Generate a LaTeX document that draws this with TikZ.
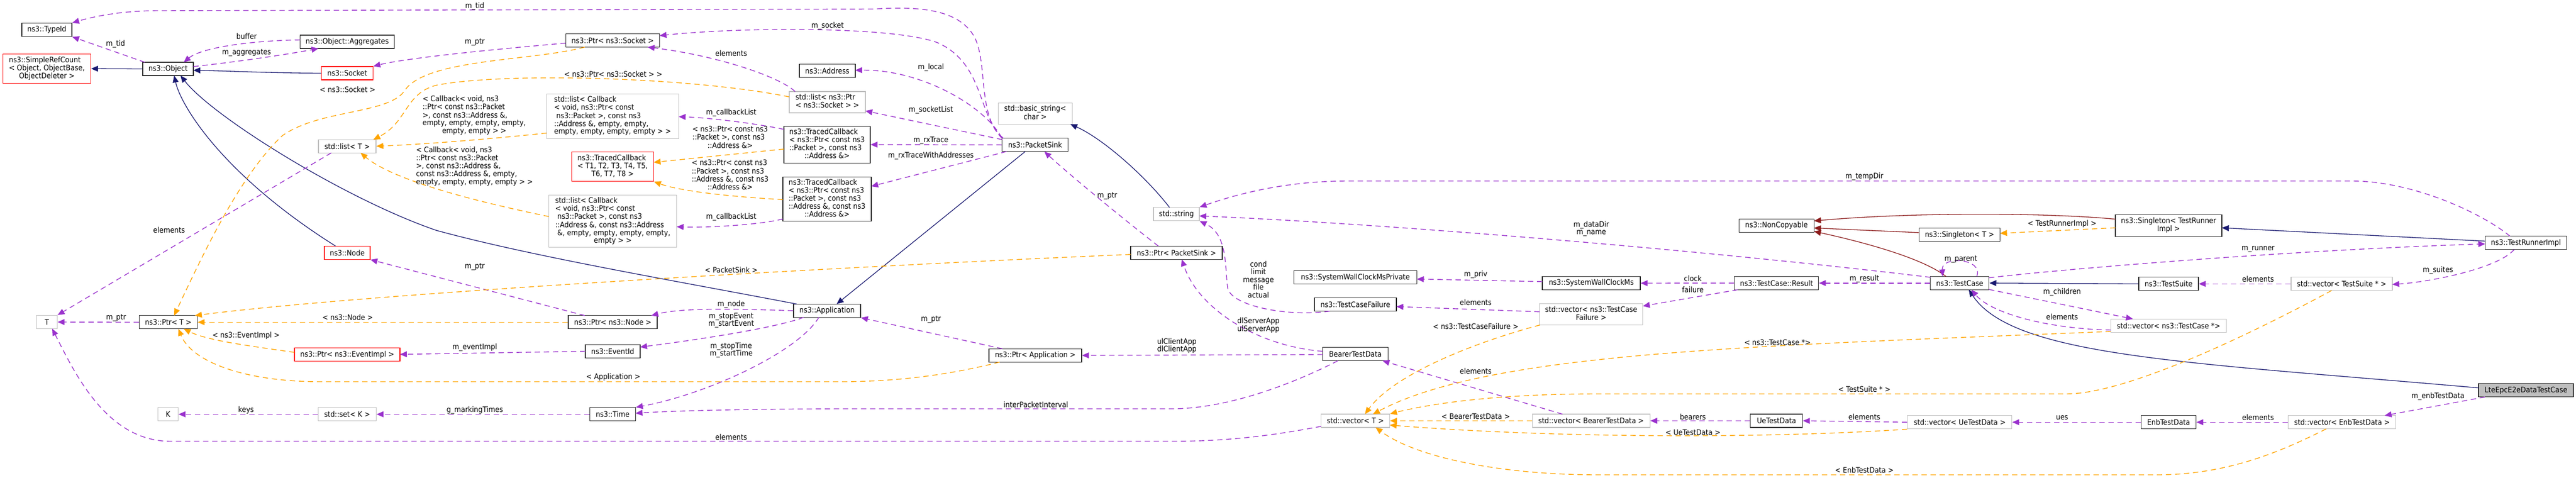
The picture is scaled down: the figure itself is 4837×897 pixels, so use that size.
\documentclass[tikz,border=0pt]{standalone}
\usepackage{fontspec}
\setmainfont{DejaVu Sans}[FakeStretch=0.9]
\usetikzlibrary{arrows.meta,calc}
\definecolor{purp}{HTML}{9A32CD}
\definecolor{orng}{HTML}{FFA500}
\definecolor{navyb}{HTML}{191970}
\definecolor{dred}{HTML}{8B1A1A}
\definecolor{gry}{HTML}{BFBFBF}
\newcommand{\nf}{\fontsize{14.3}{14.6}\selectfont}
\newcommand{\mlines}[2]{\begin{tabular}{@{}l@{}}#1\\\multicolumn{1}{@{}c@{}}{#2}\end{tabular}}
\renewcommand{\arraystretch}{1}
\tikzset{
  box/.style={draw=black!85, line width=1.3pt, inner sep=0pt, font=\nf, minimum height=25pt},
  rbox/.style={box, draw=red},
  gbox/.style={box, draw=gry},
  inh/.style={draw=navyb, line width=1.3pt, -{Triangle[length=13pt,width=11pt]}},
  prv/.style={inh, draw=dred},
  mem/.style={draw=purp, line width=1.4pt, dash pattern=on 10pt off 7pt, -{Triangle[length=13pt,width=11pt]}},
  tpl/.style={mem, draw=orng},
  lab/.style={font=\nf, inner sep=0pt, align=center},
}
\begin{document}
\begin{tikzpicture}[x=1pt,y=-1pt]
\fill[white] (0,0) rectangle (4837,897);
\useasboundingbox (0,0) rectangle (4837,897);

% ---------- nodes ----------
\node[box,minimum width=94pt] (typeid) at (88,56) {ns3::TypeId};
\node[rbox,minimum width=165pt,minimum height=55pt] (srefc) at (88,129) {\mlines{ns3::SimpleRefCount\\< Object, ObjectBase,}{ObjectDeleter >}};
\node[box,minimum width=95pt] (object) at (315.6,129.5) {ns3::Object};
\node[box,minimum width=177pt] (aggr) at (652,78.5) {ns3::Object::Aggregates};
\node[rbox,minimum width=97pt] (socket) at (652,137.5) {ns3::Socket};
\node[gbox,minimum width=108pt] (listT) at (652,274.7) {std::list< T >};
\node[rbox,minimum width=86pt] (nodeN) at (652,474.7) {ns3::Node};
\node[gbox,minimum width=39pt] (T) at (88,605) {T};
\node[box,minimum width=109pt] (ptrT) at (316,605.3) {ns3::Ptr< T >};
\node[rbox,minimum width=198pt] (ptrEv) at (652,666.3) {ns3::Ptr< ns3::EventImpl >};
\node[gbox,minimum width=38pt] (K) at (315.6,778.3) {K};
\node[gbox,minimum width=109pt] (setK) at (652,778.3) {std::set< K >};
\node[box,minimum width=176pt] (ptrSock) at (1150.4,76) {ns3::Ptr< ns3::Socket >};
\node[box,minimum width=105pt] (address) at (1553.4,133.3) {ns3::Address};
\node[gbox,minimum width=143pt,minimum height=40pt] (listPS) at (1553.5,192) {\mlines{std::list< ns3::Ptr}{< ns3::Socket > >}};
\node[gbox,minimum width=248pt,minimum height=84pt] (listCb1) at (1150.4,218.5) {\mlines{std::list< Callback\\< void, ns3::Ptr< const\\\hspace*{4pt}ns3::Packet >, const ns3\\::Address \&, empty, empty,}{empty, empty, empty, empty > >}};
\node[rbox,minimum width=154pt,minimum height=55pt] (tcT) at (1150.4,313.2) {\mlines{ns3::TracedCallback\\< T1, T2, T3, T4, T5,}{T6, T7, T8 >}};
\node[gbox,minimum width=240pt,minimum height=98pt] (listCb2) at (1150.6,415.8) {\mlines{std::list< Callback\\< void, ns3::Ptr< const\\\hspace*{4pt}ns3::Packet >, const ns3\\::Address \&, const ns3::Address\\\hspace*{4pt}\&, empty, empty, empty, empty,}{empty > >}};
\node[box,minimum width=162pt,minimum height=69pt] (tc1) at (1553,271.7) {\mlines{ns3::TracedCallback\\< ns3::Ptr< const ns3\\::Packet >, const ns3}{::Address \&>}};
\node[box,minimum width=166pt,minimum height=83pt] (tc2) at (1553,374.3) {\mlines{ns3::TracedCallback\\< ns3::Ptr< const ns3\\::Packet >, const ns3\\::Address \&, const ns3}{::Address \&>}};
\node[box,minimum width=126pt] (app) at (1553,583.7) {ns3::Application};
\node[box,minimum width=167pt] (ptrNode) at (1150.6,605.3) {ns3::Ptr< ns3::Node >};
\node[box,minimum width=103pt] (eventid) at (1150.5,659.7) {ns3::EventId};
\node[box,minimum width=86pt] (time) at (1150.4,778.3) {ns3::Time};
\node[gbox,minimum width=139pt,minimum height=40pt] (bstr) at (1943.8,213.3) {\mlines{std::basic\_string<}{char >}};
\node[box,minimum width=124pt] (psink) at (1943.6,272.2) {ns3::PacketSink};
\node[gbox,minimum width=86pt] (str) at (2209,402.2) {std::string};
\node[box,minimum width=172pt] (ptrPS) at (2209,474.7) {ns3::Ptr< PacketSink >};
\node[box,minimum width=174pt] (ptrApp) at (1944,667.7) {ns3::Ptr< Application >};
\node[box,minimum width=231pt] (swcPriv) at (2545,521.3) {ns3::SystemWallClockMsPrivate};
\node[box,minimum width=184pt] (swc) at (2988,532) {ns3::SystemWallClockMs};
\node[box,minimum width=154pt] (tcf) at (2545,572) {ns3::TestCaseFailure};
\node[gbox,minimum width=194pt,minimum height=40pt] (vecTCF) at (2987.8,590.5) {\mlines{std::vector< ns3::TestCase}{Failure >}};
\node[box,minimum width=123pt] (btd) at (2545,665.3) {BearerTestData};
\node[gbox,minimum width=129pt] (vecT) at (2545,790.5) {std::vector< T >};
\node[gbox,minimum width=221pt] (vecBTD) at (2987.7,790.5) {std::vector< BearerTestData >};
\node[box,minimum width=141pt] (noncopy) at (3335.7,423.7) {ns3::NonCopyable};
\node[box,minimum width=152pt] (singT) at (3679.5,441.2) {ns3::Singleton< T >};
\node[box,minimum width=200pt,minimum height=41pt] (singTRI) at (4072,423.7) {\mlines{ns3::Singleton< TestRunner}{Impl >}};
\node[box,minimum width=158pt] (result) at (3335.8,531.8) {ns3::TestCase::Result};
\node[box,minimum width=110pt] (testcase) at (3679.8,531.8) {ns3::TestCase};
\node[gbox,minimum width=217pt] (vecTC) at (4072,611.7) {std::vector< ns3::TestCase *>};
\node[box,minimum width=98pt] (uetd) at (3335.7,790.5) {UeTestData};
\node[gbox,minimum width=196pt] (vecUe) at (3679.8,793.2) {std::vector< UeTestData >};
\node[box,minimum width=153pt] (tri) at (4743,456.2) {ns3::TestRunnerImpl};
\node[box,minimum width=112pt] (suite) at (4072,533.3) {ns3::TestSuite};
\node[gbox,minimum width=190pt] (vecTS) at (4397,533.3) {std::vector< TestSuite * >};
\node[box,fill=gry,minimum width=178pt] (lte) at (4743,733.3) {LteEpcE2eDataTestCase};
\node[box,minimum width=103pt] (enbtd) at (4072,793.2) {EnbTestData};
\node[gbox,minimum width=202pt] (vecEnb) at (4397.6,793.2) {std::vector< EnbTestData >};

% ---------- inheritance ----------
\draw[inh] (object.west) -- (srefc.east);
\draw[inh] (socket.west) .. controls (500,137) and (420,133) .. ($(object)+(47.5,2.5)$);
\draw[inh] ($(nodeN)+(-22,-12.5)$) .. controls (420,330) and (340,200) .. ($(object)+(11.4,12.5)$);
\draw[inh] ($(app)+(-57,-12.5)$) .. controls (1260,526) and (1000,482) .. (820,433) .. controls (650,375) and (400,220) .. ($(object)+(23.4,12.5)$);
\draw[inh] ($(psink)+(-18.6,12.5)$) -- ($(app)+(18,-12.5)$);
\draw[inh] ($(str)+(-13,-12.5)$) .. controls (2150,330) and (2070,260) .. ($(bstr)+(66,20)$);
\draw[prv] ($(singTRI)+(-100,-12)$) .. controls (3850,400) and (3600,398) .. ($(noncopy)+(70.5,-8.7)$);
\draw[prv] ($(singT)+(-76,-4.2)$) -- ($(noncopy)+(70.5,4.6)$);
\draw[prv] ($(testcase)+(-25.8,-12.5)$) .. controls (3610,485) and (3500,455) .. ($(noncopy)+(70.5,11)$);
\draw[inh] ($(tri)+(-76.5,-3.2)$) -- ($(singTRI)+(100,4.3)$);
\draw[inh] ($(lte)+(-89,-4.6)$) .. controls (4100,680) and (3780,670) .. ($(testcase)+(17,12.5)$);
\draw[inh] (suite.west) -- (testcase.east);

% ---------- members ----------
\draw[mem] ($(object)+(-43.6,-12.5)$) -- (typeid.south east);
\draw[mem] ($(aggr)+(-88.5,-3.5)$) .. controls (480,76) and (380,88) .. ($(object)+(29.4,-12.5)$);
\draw[mem] ($(object)+(47.5,-4.5)$) .. controls (430,118) and (530,104) .. ($(aggr)+(-54,12.5)$);
\draw[mem] ($(ptrSock)+(-88,5)$) .. controls (900,95) and (760,110) .. (socket.north east);
\draw[mem] ($(listT)+(-30,12.5)$) -- (T.north east);
\draw[mem] (ptrT.west) -- (T.east);
\draw[mem] (setK.west) -- (K.east);
\draw[mem] (time.west) -- (setK.east);
\draw[mem] ($(eventid)+(-51.5,0.3)$) -- ($(ptrEv)+(99,-0.6)$);
\draw[mem] ($(ptrNode)+(-52.6,-12.5)$) -- (nodeN.south east);
\draw[mem] ($(listPS)+(-60.5,-20)$) .. controls (1465,145) and (1350,105) .. ($(ptrSock)+(65.6,12.5)$);
\draw[mem] ($(psink)+(-59.6,-12.5)$) .. controls (1835,220) and (1850,120) .. (1760,80) .. controls (1680,50) and (1400,50) .. ($(ptrSock)+(88,-9)$);
\draw[mem] ($(psink)+(-62,-12.5)$) .. controls (1835,215) and (1855,120) .. (1830,70) .. controls (1800,15) and (1720,12) .. (1640,17) -- (300,20) .. controls (230,20) and (180,30) .. (typeid.north east);
\draw[mem] (psink.north west) .. controls (1850,200) and (1730,130) .. ($(address)+(52.5,-1.3)$);
\draw[mem] ($(psink)+(-62,-10)$) -- ($(listPS)+(71.5,16.3)$);
\draw[mem] (psink.west) -- (tc1.east);
\draw[mem] ($(psink)+(-53.6,12.5)$) -- ($(tc2)+(83,-24.3)$);
\draw[mem] ($(tc1)+(-81,-28.7)$) .. controls (1420,232) and (1330,221) .. ($(listCb1)+(124,0.8)$);
\draw[mem] ($(tc2)+(-83,37)$) .. controls (1430,422) and (1330,428) .. ($(listCb2)+(120,10.2)$);
\draw[mem] (app.west) .. controls (1380,580) and (1280,578) .. ($(ptrNode)+(72.4,-12.5)$);
\draw[mem] ($(app)+(-44,12.5)$) .. controls (1460,615) and (1320,637) .. ($(eventid)+(51.5,-7.7)$);
\draw[mem] ($(app)+(-15.5,12.5)$) .. controls (1500,660) and (1330,740) .. (time.north east);
\draw[mem] ($(ptrApp)+(-62,-12.5)$) -- (app.south east);
\draw[mem] ($(ptrPS)+(-34,-12.5)$) .. controls (2120,420) and (2010,330) .. ($(psink)+(17.4,12.5)$);
\draw[mem] ($(testcase)+(-54.8,-10.8)$) .. controls (3200,470) and (2600,420) .. ($(str)+(43,3.5)$);
\draw[mem] ($(tri)+(-30,-12.5)$) .. controls (4660,400) and (4530,340) .. (4416,340) -- (2531,340) .. controls (2420,340) and (2330,362) .. (str.north east);
\draw[mem] ($(tcf)+(-48,12.5)$) .. controls (2420,596) and (2310,575) .. (2305,540) .. controls (2300,500) and (2305,440) .. (str.south east);
\draw[mem] ($(btd)+(-61.5,-5.3)$) .. controls (2360,650) and (2250,580) .. ($(ptrPS)+(10,12.5)$);
\draw[mem] ($(btd)+(-61.5,0.7)$) -- (ptrApp.east);
\draw[mem] ($(btd)+(-33,12.5)$) .. controls (2420,725) and (2300,768) .. (2200,768) -- (1600,768) .. controls (1400,768) and (1260,772) .. ($(time)+(43,-2)$);
\draw[mem] ($(vecT)+(-64.5,10.5)$) .. controls (2380,820) and (2300,829) .. (2200,829) -- (320,829) .. controls (200,829) and (140,700) .. ($(T)+(10,12.5)$);
\draw[mem] ($(swc)+(-92,-3)$) -- ($(swcPriv)+(115.5,3)$);
\draw[mem] ($(vecTCF)+(-97,-4.8)$) -- ($(tcf)+(77,4)$);
\draw[mem] (result.west) -- (swc.east);
\draw[mem] ($(result)+(-72.8,12.5)$) -- ($(vecTCF)+(97,-15.5)$);
\draw[mem] (testcase.west) -- (result.east);
\draw[mem] ($(testcase)+(32,-12.5)$) .. controls (3725,485) and (3645,480) .. ($(testcase)+(-32,-12.5)$);
\draw[mem] ($(testcase)+(55,12)$) -- ($(vecTC)+(-67,-12.5)$);
\draw[mem] ($(vecTC)+(-108.5,8.3)$) .. controls (3850,618) and (3740,590) .. ($(testcase)+(22,12.5)$);
\draw[mem] ($(testcase)+(55,-10)$) .. controls (3880,505) and (4300,470) .. ($(tri)+(-76.5,2)$);
\draw[mem] ($(tri)+(-22,12.5)$) .. controls (4690,505) and (4560,530) .. ($(vecTS)+(95,1)$);
\draw[mem] (vecTS.west) -- (suite.east);
\draw[mem] ($(vecBTD)+(-54,-12.5)$) -- ($(btd)+(51,12.5)$);
\draw[mem] (uetd.west) -- (vecBTD.east);
\draw[mem] (vecUe.west) -- (uetd.east);
\draw[mem] (enbtd.west) -- (vecUe.east);
\draw[mem] (vecEnb.west) -- (enbtd.east);
\draw[mem] ($(lte)+(-77,12.5)$) -- ($(vecEnb)+(80,-12.5)$);

% ---------- template instances ----------
\draw[tpl] ($(singTRI)+(-100,4.3)$) -- ($(singT)+(76,-2.9)$);
\draw[tpl] ($(ptrSock)+(-52.4,12.5)$) .. controls (1000,115) and (800,110) .. (760,170) .. controls (730,215) and (600,205) .. (530,255) .. controls (450,330) and (380,480) .. ($(ptrT)+(11,-12.5)$);
\draw[tpl] ($(listPS)+(-71.5,-10)$) .. controls (1300,145) and (950,135) .. (820,160) .. controls (760,175) and (765,230) .. ($(listT)+(49,-12.5)$);
\draw[tpl] ($(listCb1)+(-124,31.5)$) .. controls (950,258) and (820,270) .. (listT.east);
\draw[tpl] ($(listCb2)+(-120,-9)$) .. controls (900,380) and (740,340) .. ($(listT)+(25,12.5)$);
\draw[tpl] ($(tc1)+(-81,8.3)$) -- ($(tcT)+(77,-8.2)$);
\draw[tpl] ($(tc2)+(-83,0.7)$) .. controls (1380,370) and (1280,360) .. (tcT.south east);
\draw[tpl] ($(ptrPS)+(-86,3.3)$) .. controls (1600,500) and (700,550) .. ($(ptrT)+(50,-12.5)$);
\draw[tpl] (ptrNode.west) -- (ptrT.east);
\draw[tpl] ($(ptrEv)+(-99,-4.3)$) .. controls (470,650) and (390,640) .. ($(ptrT)+(29,12.5)$);
\draw[tpl] ($(ptrApp)+(-67,12.5)$) .. controls (1800,700) and (1700,717) .. (1580,717) -- (600,717) .. controls (460,717) and (360,680) .. ($(ptrT)+(19,12.5)$);
\draw[tpl] ($(vecTCF)+(-96,20)$) .. controls (2780,640) and (2620,700) .. ($(vecT)+(18,-12.5)$);
\draw[tpl] ($(vecTC)+(-108.5,11)$) .. controls (3300,650) and (2800,660) .. ($(vecT)+(33,-12.5)$);
\draw[tpl] ($(vecTS)+(-19,12.5)$) .. controls (4250,615) and (4000,740) .. (3880,740) -- (3000,740) .. controls (2800,740) and (2680,760) .. (vecT.north east);
\draw[tpl] (vecBTD.west) -- (vecT.east);
\draw[tpl] (vecUe.south west) .. controls (3300,825) and (2900,822) .. ($(vecT)+(64.5,8)$);
\draw[tpl] ($(vecEnb)+(-29.6,12.5)$) .. controls (4280,850) and (4180,892) .. (4050,892) -- (3000,892) .. controls (2820,892) and (2660,860) .. ($(vecT)+(38,12.5)$);

% ---------- labels ----------
\node[lab] (l1) at (217,82.3) {m\_tid};
\node[lab] (l2) at (463,67.7) {buffer};
\node[lab] (l3) at (463,99) {m\_aggregates};
\node[lab] (l4) at (652.7,168.3) {< ns3::Socket >};
\node[lab] (l5) at (317.5,431.7) {elements};
\node[lab] (l6) at (218,596.7) {m\_ptr};
\node[lab] (l7) at (653,596) {< ns3::Node >};
\node[lab] (l8) at (462,630.3) {< ns3::EventImpl >};
\node[lab] (l9) at (462,770.3) {keys};
\node[lab] (l10) at (891.5,11.7) {m\_tid};
\node[lab] (l11) at (891.5,79) {m\_ptr};
\node[lab] (l12) at (1554,49) {m\_socket};
\node[lab] (l13) at (1373,100) {elements};
\node[lab] (l14) at (1151.5,139.3) {< ns3::Ptr< ns3::Socket > >};
\node[lab] (l15) at (1373,211.7) {m\_callbackList};
\node[lab] (l16) at (1371,259.7) {\mlines{< ns3::Ptr< const ns3\\::Packet >, const ns3}{::Address \&>}};
\node[lab] (l17) at (1371,330.7) {\mlines{< ns3::Ptr< const ns3\\::Packet >, const ns3\\::Address \&, const ns3}{::Address \&>}};
\node[lab] (l18) at (1373,407.3) {m\_callbackList};
\node[lab] (l19) at (890.5,217.2) {\mlines{< Callback< void, ns3\\::Ptr< const ns3::Packet\\>, const ns3::Address \&,\\empty, empty, empty, empty,}{empty, empty > >}};
\node[lab] (l20) at (891,313) {\mlines{< Callback< void, ns3\\::Ptr< const ns3::Packet\\>, const ns3::Address \&,\\const ns3::Address \&, empty,}{empty, empty, empty, empty > >}};
\node[lab] (l21) at (891.5,501) {m\_ptr};
\node[lab] (l22) at (1373,506.7) {< PacketSink >};
\node[lab] (l23) at (1373,571.7) {m\_node};
\node[lab] (l24) at (1373,602) {m\_stopEvent\\m\_startEvent};
\node[lab] (l25) at (891.5,652.3) {m\_eventImpl};
\node[lab] (l26) at (1373,657.8) {m\_stopTime\\m\_startTime};
\node[lab] (l27) at (1151.5,708.7) {< Application >};
\node[lab] (l28) at (891.5,770.7) {g\_markingTimes};
\node[lab] (l29) at (1373,820.7) {elements};
\node[lab] (l30) at (1748,126.7) {m\_local};
\node[lab] (l31) at (1748,206.7) {m\_socketList};
\node[lab] (l32) at (1748,263.7) {m\_rxTrace};
\node[lab] (l33) at (1748,292.7) {m\_rxTraceWithAddresses};
\node[lab] (l34) at (2079,367.7) {m\_ptr};
\node[lab] (l35) at (1748,600) {m\_ptr};
\node[lab] (l36) at (2363,525) {cond\\limit\\message\\file\\actual};
\node[lab] (l37) at (2363,611.2) {dlServerApp\\ulServerApp};
\node[lab] (l38) at (2209.8,649.7) {ulClientApp\\dlClientApp};
\node[lab] (l39) at (1945,759.7) {interPacketInterval};
\node[lab] (l40) at (2988,429.8) {m\_dataDir\\m\_name};
\node[lab] (l41) at (2771,516) {m\_priv};
\node[lab] (l42) at (3178.7,523.3) {clock};
\node[lab] (l43) at (3178.7,543.7) {failure};
\node[lab] (l44) at (2771,568.3) {elements};
\node[lab] (l45) at (2771,612.7) {< ns3::TestCaseFailure >};
\node[lab] (l46) at (2771,696.7) {elements};
\node[lab] (l47) at (2771,782.7) {< BearerTestData >};
\node[lab] (l48) at (3178.7,782.7) {bearers};
\node[lab] (l49) at (3179,812.3) {< UeTestData >};
\node[lab] (l50) at (3500.7,331.7) {m\_tempDir};
\node[lab] (l51) at (3872,420.7) {< TestRunnerImpl >};
\node[lab] (l52) at (3682,486.7) {m\_parent};
\node[lab] (l53) at (3500.7,523.3) {m\_result};
\node[lab] (l54) at (3872,548.7) {m\_children};
\node[lab] (l55) at (3872,594.7) {elements};
\node[lab] (l56) at (3337.6,643) {< ns3::TestCase *>};
\node[lab] (l57) at (3500.7,731.3) {< TestSuite * >};
\node[lab] (l58) at (3500.7,782.7) {elements};
\node[lab] (l59) at (3872,785) {ues};
\node[lab] (l60) at (3500.7,883.3) {< EnbTestData >};
\node[lab] (l61) at (4240,467.7) {m\_runner};
\node[lab] (l62) at (4577.8,507.7) {m\_suites};
\node[lab] (l63) at (4240,524.3) {elements};
\node[lab] (l64) at (4577.8,744.3) {m\_enbTestData};
\node[lab] (l65) at (4240,784.3) {elements};
\end{tikzpicture}
\end{document}
